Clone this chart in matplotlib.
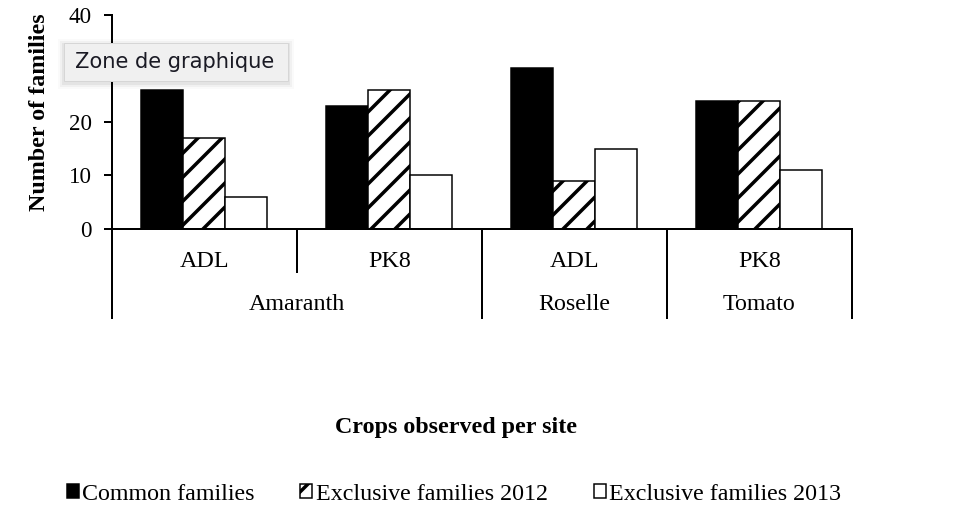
import numpy as np
import matplotlib.pyplot as plt
from matplotlib.patches import Patch, Rectangle
from matplotlib.transforms import blended_transform_factory

# Data
sites = ['ADL', 'PK8', 'ADL', 'PK8']
crops = ['Amaranth', 'Amaranth', 'Roselle', 'Tomato']
common = [26, 23, 30, 24]
excl_2012 = [17, 26, 9, 24]
excl_2013 = [6, 10, 15, 11]
series_labels = ['Common families', 'Exclusive families 2012', 'Exclusive families 2013']
yticks = [0, 10, 20, 30, 40]
# the "30" label sits under the tooltip in the reference
ytick_labels = ['0', '10', '20', '', '40']

plt.rcParams['font.family'] = ['Liberation Serif', 'DejaVu Serif']
plt.rcParams['hatch.linewidth'] = 3.5
plt.rcParams['hatch.color'] = 'black'

fig = plt.figure(figsize=(13.5, 7.25), dpi=72)
ax = fig.add_axes([111.8 / 972, 1 - 229 / 522, (852 - 111.8) / 972, 214 / 522])

x = np.arange(len(sites))
w = 0.227
ax.bar(x - w, common, w, color='black', edgecolor='black', linewidth=1.5)
ax.bar(x, excl_2012, w, color='white', edgecolor='black', hatch='/', linewidth=1.5)
ax.bar(x + w, excl_2013, w, color='white', edgecolor='black', linewidth=1.5)

ax.set_xlim(-0.5, len(sites) - 0.5)
ax.set_ylim(0, 40)
ax.set_yticks(yticks)
ax.set_yticklabels(ytick_labels)
ax.tick_params(axis='y', direction='out', length=8, width=2, pad=12, labelsize=23)
ax.set_xticks([])
for s in ['top', 'right']:
    ax.spines[s].set_visible(False)
for s in ['left', 'bottom']:
    ax.spines[s].set_linewidth(2)

# Two-level category axis
tr = blended_transform_factory(ax.transData, ax.transAxes)
for i, s in enumerate(sites):
    ax.text(i, -0.154, s, transform=tr, ha='center', va='center', fontsize=24)

groups = []
for i, c in enumerate(crops):
    if groups and groups[-1][0] == c:
        groups[-1][2] = i
    else:
        groups.append([c, i, i])
boundaries = [g[1] - 0.5 for g in groups] + [len(crops) - 0.5]
for b in np.arange(len(sites) + 1) - 0.5:
    low = -0.416 if b in boundaries else -0.201
    ax.plot([b, b], [0, low], transform=tr, color='black', lw=2, clip_on=False)
for c, i0, i1 in groups:
    ax.text((i0 + i1) / 2, -0.355, c, transform=tr, ha='center', va='center', fontsize=24)

fig.text(40 / 972, 1 - 112 / 522, 'Number of families', rotation=90,
         ha='center', va='center', fontsize=24, fontweight='bold')
fig.text(456 / 972, 1 - 428 / 522, 'Crops observed per site',
         ha='center', va='center', fontsize=24, fontweight='bold')

handles = [Patch(facecolor='black', edgecolor='black', linewidth=1.5),
           Patch(facecolor='white', edgecolor='black', hatch='/', linewidth=1.5),
           Patch(facecolor='white', edgecolor='black', linewidth=1.5)]
fig.legend(handles, series_labels, loc='center', bbox_to_anchor=(454 / 972, 1 - 494 / 522),
           ncol=3, frameon=False, fontsize=24, handlelength=0.5, handleheight=0.5,
           handletextpad=0.15, columnspacing=1.9, borderpad=0)

# "Zone de graphique" tooltip overlay
for k, a in enumerate([0.05, 0.035, 0.02]):
    d = (k + 1) * 2
    fig.patches.append(Rectangle(((64 - d) / 972, 1 - (81 + d + 2) / 522), (224 + 2 * d) / 972,
                                 (38 + 2 * d) / 522, transform=fig.transFigure,
                                 facecolor='black', alpha=a, edgecolor='none', zorder=9))
fig.patches.append(Rectangle((64 / 972, 1 - 81 / 522), 224 / 972, 38 / 522,
                             transform=fig.transFigure, facecolor='#f0f0f0',
                             edgecolor='#d6d6d6', linewidth=1, zorder=10))
fig.text(175 / 972, 1 - 62 / 522, 'Zone de graphique', ha='center', va='center',
         fontsize=21, color='#1a1a24', family='DejaVu Sans', zorder=11)

fig.savefig('out.png', dpi=72)
